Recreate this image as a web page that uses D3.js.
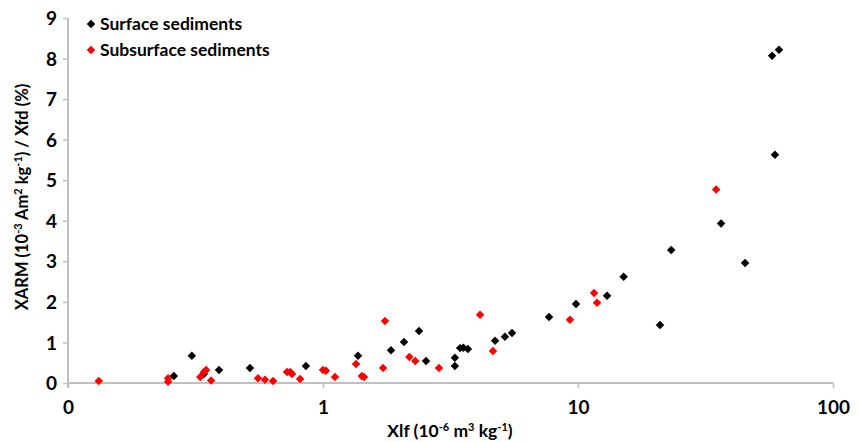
<!DOCTYPE html>
<html>
<head>
<meta charset="utf-8">
<script src="https://cdn.jsdelivr.net/npm/d3@7"></script>
<style>
  body { margin: 0; background: #fff; }
  text { font-family: Lato, "Open Sans", sans-serif; font-weight: bold; fill: #000; }
</style>
</head>
<body>
<svg id="chart" width="859" height="442"></svg>
<script>
// ---- data ----
const surfaceX = [0.260, 0.306, 0.341, 0.391, 0.517, 0.857, 1.372, 1.848, 2.078, 2.38, 2.535,
  3.29, 3.29, 3.45, 3.55, 3.70, 4.73, 5.17, 5.51, 7.70, 9.82, 13.0, 15.1, 20.97, 23.2,
  36.4, 45.2, 57.7, 61.4, 59.2];
const surfaceY = [0.17, 0.67, 0.22, 0.32, 0.37, 0.42, 0.67, 0.81, 1.01, 1.28, 0.54,
  0.62, 0.42, 0.86, 0.87, 0.84, 1.04, 1.14, 1.23, 1.63, 1.95, 2.15, 2.62, 1.43, 3.28,
  3.93, 2.96, 8.07, 8.22, 5.63];
const subsurfaceX = [0.132, 0.247, 0.247, 0.330, 0.341, 0.348, 0.364, 0.556, 0.592, 0.637,
  0.722, 0.743, 0.756, 0.813, 1.0, 1.027, 1.114, 1.347, 1.42, 1.448, 1.72, 1.75, 2.18,
  2.30, 2.85, 4.13, 4.64, 9.30, 11.56, 11.87, 34.8];
const subsurfaceY = [0.05, 0.12, 0.03, 0.15, 0.27, 0.32, 0.06, 0.12, 0.08, 0.05,
  0.27, 0.27, 0.22, 0.10, 0.32, 0.30, 0.15, 0.47, 0.17, 0.15, 0.37, 1.53, 0.64,
  0.54, 0.37, 1.68, 0.79, 1.56, 2.22, 1.98, 4.77];
const xTickValues = [0.1, 1, 10, 100];
const xTickLabels = ["0", "1", "10", "100"];
const yTickValues = [0, 1, 2, 3, 4, 5, 6, 7, 8, 9];
const seriesNames = ["Surface sediments", "Subsurface sediments"];
const seriesColors = ["#000000", "#ff0000"];

(function () {
// ---- layout ----
const svg = d3.select("#chart");
const mLeft = 68, mRight = 833, mTop = 18, mBottom = 383;
const x = d3.scaleLog().domain([0.1, 100]).range([mLeft, mRight]);
const y = d3.scaleLinear().domain([0, 9]).range([mBottom, mTop]);
const axisColor = "#bfbfbf";

// y axis
const yAxis = svg.append("g").attr("transform", `translate(${mLeft},0)`)
  .call(d3.axisLeft(y).tickValues(yTickValues).tickSize(5).tickPadding(6).tickFormat(d3.format("d")));
yAxis.select(".domain").attr("stroke", axisColor).attr("stroke-width", 2)
  .attr("d", `M0,${mTop}V${mBottom + 5}`);
yAxis.selectAll(".tick line").attr("stroke", axisColor).attr("stroke-width", 1.5);
yAxis.selectAll(".tick text").style("font-size", "19px").attr("dy", "0.35em");

// x axis
const xAxis = svg.append("g").attr("transform", `translate(0,${mBottom})`)
  .call(d3.axisBottom(x).tickValues(xTickValues).tickSize(5).tickPadding(13)
    .tickFormat((d, i) => xTickLabels[i]));
xAxis.select(".domain").attr("stroke", axisColor).attr("stroke-width", 2)
  .attr("d", `M${mLeft},0H${mRight}`);
xAxis.selectAll(".tick line").attr("stroke", axisColor).attr("stroke-width", 1.5);
xAxis.selectAll(".tick text").style("font-size", "19px");

// markers
const sym = d3.symbol().type(d3.symbolSquare).size(36);
function drawSeries(xs, ys, color) {
  svg.append("g").selectAll("path").data(xs.map((v, i) => [v, ys[i]])).join("path")
    .attr("d", sym)
    .attr("fill", color)
    .attr("transform", d => `translate(${x(d[0])},${y(d[1])}) rotate(45)`);
}
drawSeries(surfaceX, surfaceY, seriesColors[0]);
drawSeries(subsurfaceX, subsurfaceY, seriesColors[1]);

// legend
seriesNames.forEach((name, i) => {
  const cy = 24 + i * 26;
  svg.append("path").attr("d", sym).attr("fill", seriesColors[i])
    .attr("transform", `translate(91,${cy}) rotate(45)`);
  svg.append("text").attr("x", 100).attr("y", cy).attr("dy", "0.35em")
    .style("font-size", "17.5px").text(name);
});

// x axis title
const xt = svg.append("text").attr("x", 450).attr("y", 437).attr("text-anchor", "middle")
  .style("font-size", "17.5px");
xt.append("tspan").text("Xlf (10");
xt.append("tspan").attr("baseline-shift", "super").style("font-size", "11px").text("-6");
xt.append("tspan").text(" m");
xt.append("tspan").attr("baseline-shift", "super").style("font-size", "11px").text("3");
xt.append("tspan").text(" kg");
xt.append("tspan").attr("baseline-shift", "super").style("font-size", "11px").text("-1");
xt.append("tspan").text(")");

// y axis title
const yt = svg.append("text").attr("transform", "translate(28,197) rotate(-90)")
  .attr("text-anchor", "middle").style("font-size", "16.5px");
yt.append("tspan").text("XARM (10");
yt.append("tspan").attr("baseline-shift", "super").style("font-size", "11px").text("-3");
yt.append("tspan").text(" Am");
yt.append("tspan").attr("baseline-shift", "super").style("font-size", "11px").text("2");
yt.append("tspan").text(" kg");
yt.append("tspan").attr("baseline-shift", "super").style("font-size", "11px").text("-1");
yt.append("tspan").text(") / Xfd (%)");
})();
</script>
</body>
</html>
